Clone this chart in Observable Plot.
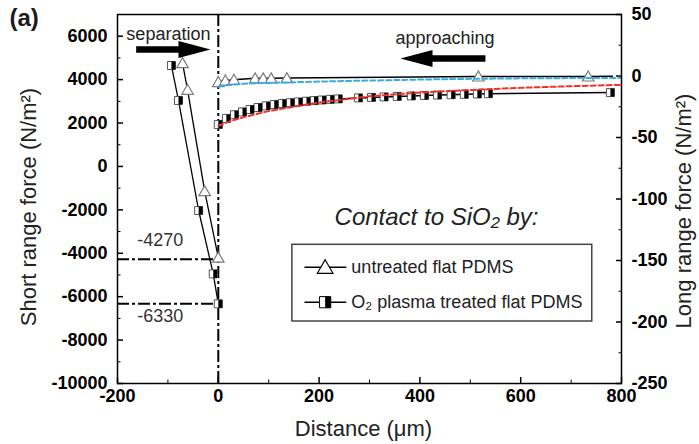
<!DOCTYPE html>
<html>
<head>
<meta charset="utf-8">
<script src="https://cdn.jsdelivr.net/npm/d3@7"></script>
<script src="https://cdn.jsdelivr.net/npm/@observablehq/plot@0.6"></script>
<style>
  html, body { margin: 0; padding: 0; background: #fff; }
</style>
</head>
<body>
<div id="chart"></div>
<script>
// ---------- axes ----------
const xDomain = [-200, 800];
const yLeftDomain = [-10000, 7000];
const yRightDomain = [-250, 50];
const xTicks = [-200, 0, 200, 400, 600, 800];
const xMinorTicks = [-100, 100, 300, 500, 700];
const yLeftTicks = [-10000, -8000, -6000, -4000, -2000, 0, 2000, 4000, 6000];
const yLeftMinorTicks = [-9000, -7000, -5000, -3000, -1000, 1000, 3000, 5000];
const yRightTicks = [-250, -200, -150, -100, -50, 0, 50];
const yRightMinorTicks = [-225, -175, -125, -75, -25, 25];

// ---------- separation (short range force, left axis, N/m2) ----------
const sepUntreatedX = [-71, -61, -27, 0];
const sepUntreatedY = [4760, 3530, -1140, -4200];
const sepPlasmaX = [-93, -79, -39, -10, 0];
const sepPlasmaY = [4650, 3040, -2030, -4950, -6330];

// ---------- approaching (long range force, right axis, N/m2) ----------
const appUntreatedX = [0, 14, 31, 73, 89, 105, 136, 516, 734];
const appUntreatedY = [-4.9, -3.7, -3.1, -1.9, -1.9, -1.9, -1.7, -0.4, -0.4];
const appUntreatedLineEndX = [782];
const appUntreatedLineEndY = [-0.3];
const appPlasmaX = [0, 16, 32, 48, 63, 79, 95, 111, 127, 143, 159, 175, 190, 206, 222, 238,
                    278, 304, 329, 355, 383, 409, 435, 462, 488, 514, 536, 778];
const appPlasmaY = [-39.4, -34.5, -31.5, -29.2, -27.2, -25.6, -24.3, -23.2, -22.4, -21.7, -21.1, -20.5, -20.0, -19.5, -19.0, -18.6,
                    -17.8, -17.4, -17.0, -16.6, -16.2, -15.8, -15.5, -15.2, -14.9, -14.6, -14.4, -13.5];

// fits (dashed)
const fitUntreatedX = [0, 25, 50, 100, 200, 300, 400, 500, 600, 700, 800];
const fitUntreatedY = [-8.5, -7.2, -6.3, -5.6, -4.5, -3.7, -2.9, -2.3, -1.9, -1.7, -1.5];
const fitPlasmaX = [0, 25, 50, 100, 150, 200, 250, 300, 400, 500, 600, 700, 800];
const fitPlasmaY = [-40.5, -36.5, -33.5, -28.5, -25, -21.5, -19, -16.5, -13.5, -11.3, -9.6, -8.3, -7.2];

// ---------- annotations ----------
const refLevels = [-4270, -6330];
const refLabelX = [-115, -115];
const refLabelY = [-3412, -6913];
const arrowLabels = ["separation", "approaching"];
const arrowLabelX = [-99, 450];
const arrowLabelY = [6078, 5894];
const arrowTailX = [-163, 530];
const arrowHeadX = [-77, 423];
const arrowY = [5387, 4973];

const legendTitle = "Contact to SiO\u2082 by:";
const legendTitleX = 433;
const legendTitleY = -2352;
const legendLabels = ["untreated flat PDMS", "O\u2082 plasma treated flat PDMS"];
const legendBoxX = [147, 742];
const legendBoxY = [-7144, -3610];
const legendEntryY = [-4642, -6255];
const legendLineX = [171, 254];
const legendMarkerX = 212;
const legendTextX = 264;

const panelLabel = "(a)";
const xTitle = "Distance (\u03bcm)";
const yLeftTitle = "Short range force (N/m\u00b2)";
const yRightTitle = "Long range force (N/m\u00b2)";

// ---------- helpers ----------
const toL = v => yLeftDomain[0] + (v - yRightDomain[0]) / (yRightDomain[1] - yRightDomain[0]) * (yLeftDomain[1] - yLeftDomain[0]);
const fromL = d => yRightDomain[0] + (d - yLeftDomain[0]) / (yLeftDomain[1] - yLeftDomain[0]) * (yRightDomain[1] - yRightDomain[0]);
const pts = (xs, ys, f = v => v) => xs.map((x, i) => ({x, y: f(ys[i])}));
const plain = d => String(Math.round(d));

const triSym = {draw(ctx, size) {
  const r = Math.sqrt(size / Math.PI);
  ctx.moveTo(0, -1.1 * r); ctx.lineTo(1.15 * r, 0.9 * r); ctx.lineTo(-1.15 * r, 0.9 * r); ctx.closePath();
}};
const sqSym = {draw(ctx, size) {
  const s = 1.6 * Math.sqrt(size / Math.PI);
  ctx.rect(-s / 2, -s / 2, s, s);
}};
const halfSym = {draw(ctx, size) {
  const s = 1.6 * Math.sqrt(size / Math.PI);
  ctx.rect(0, -s / 2, s / 2, s);
}};
const headRight = {draw(ctx) { ctx.moveTo(-1, -8.5); ctx.lineTo(31, 0); ctx.lineTo(-1, 8.5); ctx.closePath(); }};
const headLeft = {draw(ctx) { ctx.moveTo(1, -8.5); ctx.lineTo(-31, 0); ctx.lineTo(1, 8.5); ctx.closePath(); }};

const sepU = pts(sepUntreatedX, sepUntreatedY);
const sepP = pts(sepPlasmaX, sepPlasmaY);
const appU = pts(appUntreatedX, appUntreatedY, toL);
const appULine = appU.concat(pts(appUntreatedLineEndX, appUntreatedLineEndY, toL));
const appP = pts(appPlasmaX, appPlasmaY, toL);
const fitU = pts(fitUntreatedX, fitUntreatedY, toL);
const fitP = pts(fitPlasmaX, fitPlasmaY, toL);

const dashDot = "12,3,3,3";
const tickFont = {fontSize: 18, fontWeight: "bold", label: null};

const chart = Plot.plot({
  width: 699,
  height: 444,
  marginLeft: 117,
  marginRight: 78,
  marginTop: 14,
  marginBottom: 61,
  x: {domain: xDomain},
  y: {domain: yLeftDomain},
  style: {fontFamily: "'Liberation Sans', Arial, sans-serif", color: "black", background: "white", overflow: "visible"},
  marks: [
    // axes (ticks inward)
    Plot.axisX(xTicks, {anchor: "bottom", tickSize: -6, tickPadding: 12, strokeWidth: 1.5, tickFormat: plain, ...tickFont}),
    Plot.axisX(xMinorTicks, {anchor: "bottom", tickSize: -3.5, tickFormat: () => "", label: null}),
    Plot.axisY(yLeftTicks, {anchor: "left", tickSize: -6, tickPadding: 16, strokeWidth: 1.5, tickFormat: plain, ...tickFont}),
    Plot.axisY(yLeftMinorTicks, {anchor: "left", tickSize: -3.5, tickFormat: () => "", label: null}),
    Plot.axisY(yRightTicks.map(toL), {anchor: "right", tickSize: -6, tickPadding: 16, strokeWidth: 1.5,
      tickFormat: d => plain(fromL(d)), textAnchor: "start", ...tickFont}),
    Plot.axisY(yRightMinorTicks.map(toL), {anchor: "right", tickSize: -3.5, tickFormat: () => "", label: null}),

    // reference dash-dot lines
    Plot.ruleX([0], {stroke: "black", strokeWidth: 2, strokeDasharray: dashDot}),
    Plot.ruleY(refLevels, {x1: xDomain[0], x2: 0, stroke: "black", strokeWidth: 2, strokeDasharray: dashDot}),
    Plot.text(refLevels, {x: refLabelX, y: refLabelY, text: d => String(d), fontSize: 18, fill: "#333"}),

    // separation curves
    Plot.line(sepU, {x: "x", y: "y", stroke: "black", strokeWidth: 1.3}),
    Plot.line(sepP, {x: "x", y: "y", stroke: "black", strokeWidth: 1.3}),
    // approach curves
    Plot.line(appULine, {x: "x", y: "y", stroke: "black", strokeWidth: 1.5}),
    Plot.line(appP, {x: "x", y: "y", stroke: "black", strokeWidth: 1.5}),

    // markers
    Plot.dot(sepU.concat(appU), {x: "x", y: "y", symbol: triSym, r: 5, fill: "white", stroke: "#7a7a7a", strokeWidth: 1.2}),
    Plot.dot(sepP.concat(appP), {x: "x", y: "y", symbol: sqSym, r: 5, fill: "white", stroke: "#555", strokeWidth: 1}),
    Plot.dot(sepP.concat(appP), {x: "x", y: "y", symbol: halfSym, r: 5, fill: "black"}),

    // fits
    Plot.line(fitU, {x: "x", y: "y", stroke: "#35aee6", strokeWidth: 2, strokeDasharray: "5,3"}),
    Plot.line(fitP, {x: "x", y: "y", stroke: "#f2322a", strokeWidth: 2, strokeDasharray: "5,3"}),

    // arrows
    Plot.link(arrowY, {x1: arrowTailX, x2: arrowHeadX, y1: arrowY, y2: arrowY, stroke: "black", strokeWidth: 6.5}),
    Plot.dot([arrowY[0]], {x: arrowHeadX[0], y: d => d, symbol: headRight, r: 5, fill: "black", stroke: null}),
    Plot.dot([arrowY[1]], {x: arrowHeadX[1], y: d => d, symbol: headLeft, r: 5, fill: "black", stroke: null}),
    Plot.text(arrowLabels, {x: arrowLabelX, y: arrowLabelY, text: d => d, fontSize: 18, fill: "#222"}),

    // legend
    Plot.text([legendTitle], {x: legendTitleX, y: legendTitleY, text: d => d, fontSize: 24, fontStyle: "italic", fill: "#222"}),
    Plot.rect([0], {x1: legendBoxX[0], x2: legendBoxX[1], y1: legendBoxY[0], y2: legendBoxY[1], fill: "white", stroke: "#444", strokeWidth: 1.5}),
    Plot.link(legendEntryY, {x1: legendLineX[0], x2: legendLineX[1], y1: d => d, y2: d => d, stroke: "black", strokeWidth: 1.5}),
    Plot.dot([legendEntryY[0]], {x: legendMarkerX, y: d => d, symbol: triSym, r: 6.8, fill: "white", stroke: "black", strokeWidth: 1.2}),
    Plot.dot([legendEntryY[1]], {x: legendMarkerX, y: d => d, symbol: sqSym, r: 7, fill: "white", stroke: "black", strokeWidth: 1}),
    Plot.dot([legendEntryY[1]], {x: legendMarkerX, y: d => d, symbol: halfSym, r: 7, fill: "black"}),
    Plot.text(legendLabels, {x: legendTextX, y: legendEntryY, text: d => d, textAnchor: "start", fontSize: 18, fill: "#222"}),

    // titles
    Plot.text([yLeftTitle], {frameAnchor: "left", dx: -89, dy: 8, rotate: -90, textAnchor: "middle", lineAnchor: "middle", text: d => d, fontSize: 22, fill: "#222"}),
    Plot.text([yRightTitle], {frameAnchor: "right", dx: 62, dy: 12, rotate: -90, textAnchor: "middle", lineAnchor: "middle", text: d => d, fontSize: 22, fill: "#222"}),
    Plot.text([xTitle], {frameAnchor: "bottom", dx: -6, dy: 45, textAnchor: "middle", lineAnchor: "middle", text: d => d, fontSize: 22, fill: "#222"}),
    Plot.text([panelLabel], {frameAnchor: "top-left", dx: -108, dy: 4, textAnchor: "start", lineAnchor: "middle", text: d => d, fontSize: 24, fontWeight: "bold", fill: "#1c1c1c"}),

    Plot.frame({stroke: "black", strokeWidth: 1.5})
  ]
});
document.getElementById("chart").appendChild(chart);
</script>
</body>
</html>
